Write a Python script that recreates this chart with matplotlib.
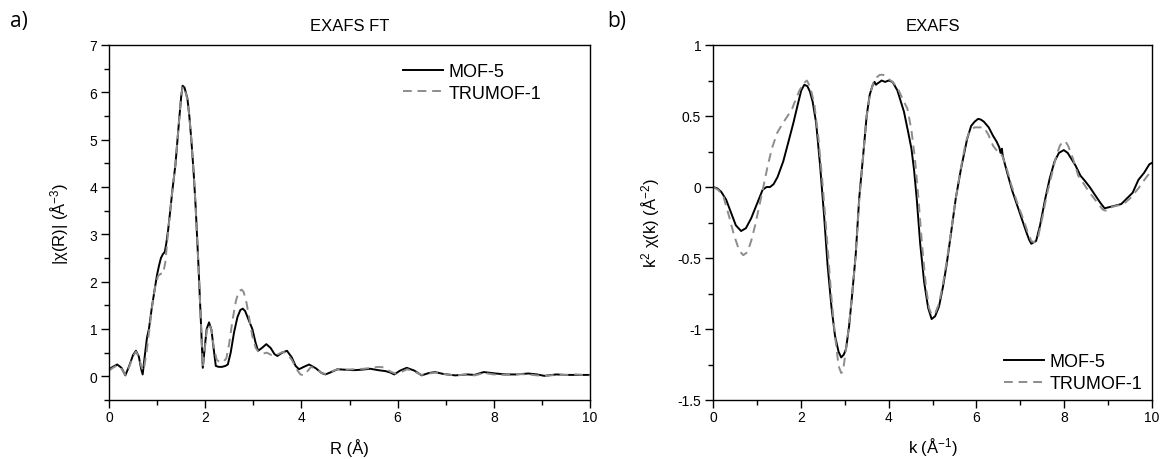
import numpy as np
import matplotlib
matplotlib.use("Agg")
import matplotlib.pyplot as plt
from matplotlib.ticker import MultipleLocator, FuncFormatter

plt.rcParams['font.family'] = ['Liberation Sans', 'DejaVu Sans']
plt.rcParams['mathtext.default'] = 'regular'
plt.rcParams['axes.unicode_minus'] = False

# a) EXAFS FT, |chi(R)| vs R
r_mof5 = [0.0, 0.08, 0.17, 0.26, 0.34, 0.42, 0.5, 0.56, 0.62, 0.67, 0.70, 0.74, 0.79, 0.83,
          0.89, 0.95, 1.0, 1.04, 1.08, 1.12, 1.16, 1.19, 1.23, 1.27, 1.32, 1.38, 1.42, 1.46, 1.50,
          1.53, 1.57, 1.63, 1.67, 1.71, 1.76, 1.80, 1.86, 1.92, 1.95, 1.99, 2.03, 2.08, 2.13,
          2.18, 2.22, 2.28, 2.35, 2.42, 2.47, 2.53, 2.6, 2.67, 2.73, 2.78, 2.83, 2.9, 2.98, 3.05,
          3.1, 3.18, 3.27, 3.36, 3.44, 3.5, 3.6, 3.7, 3.8, 3.88, 3.95, 4.05, 4.16, 4.3, 4.42, 4.5,
          4.62, 4.75, 4.9, 5.09, 5.25, 5.43, 5.6, 5.75, 5.85, 5.93, 6.05, 6.19, 6.35, 6.5, 6.65,
          6.78, 6.95, 7.2, 7.45, 7.6, 7.79, 8.04, 8.25, 8.46, 8.72, 8.9, 9.05, 9.3, 9.5, 9.65, 9.85, 10.0]
chi_mof5 = [0.15, 0.2, 0.25, 0.18, 0.02, 0.22, 0.45, 0.54, 0.42, 0.15, 0.04, 0.4, 0.82, 1.0,
            1.45, 1.84, 2.15, 2.34, 2.5, 2.58, 2.63, 2.8, 3.1, 3.47, 3.95, 4.46, 4.95, 5.44, 5.9,
            6.14, 6.1, 5.87, 5.5, 5.02, 4.3, 3.61, 2.34, 0.93, 0.18, 0.6, 1.0, 1.14, 0.98,
            0.55, 0.22, 0.2, 0.2, 0.22, 0.25, 0.5, 0.93, 1.25, 1.4, 1.43, 1.38, 1.2, 1.0, 0.7,
            0.54, 0.6, 0.68, 0.6, 0.47, 0.43, 0.5, 0.54, 0.4, 0.22, 0.15, 0.2, 0.25, 0.17, 0.07, 0.04,
            0.09, 0.15, 0.14, 0.13, 0.14, 0.16, 0.13, 0.11, 0.08, 0.04, 0.12, 0.18, 0.12, 0.02, 0.07,
            0.09, 0.05, 0.02, 0.04, 0.03, 0.09, 0.06, 0.04, 0.04, 0.06, 0.04, 0.01, 0.04, 0.03, 0.03, 0.03, 0.03]

r_trumof = [0.0, 0.08, 0.17, 0.26, 0.34, 0.42, 0.5, 0.56, 0.62, 0.68, 0.72, 0.78, 0.84, 0.9,
            0.96, 1.02, 1.08, 1.12, 1.17, 1.22, 1.27, 1.32, 1.38, 1.42, 1.46, 1.50, 1.53, 1.57,
            1.63, 1.67, 1.71, 1.76, 1.80, 1.86, 1.92, 1.95, 1.99, 2.03, 2.08, 2.13, 2.18, 2.24,
            2.3, 2.37, 2.44, 2.5, 2.57, 2.64, 2.7, 2.76, 2.8, 2.86, 2.92, 2.98, 3.05, 3.12, 3.2,
            3.28, 3.38, 3.5, 3.62, 3.7, 3.8, 3.9, 3.98, 4.05, 4.12, 4.2, 4.3, 4.42, 4.5, 4.62,
            4.75, 4.9, 5.1, 5.3, 5.45, 5.6, 5.72, 5.85, 5.95, 6.05, 6.2, 6.35, 6.5, 6.65, 6.8,
            6.95, 7.2, 7.45, 7.6, 7.8, 8.0, 8.25, 8.5, 8.72, 8.9, 9.05, 9.3, 9.5, 9.7, 9.85, 10.0]
chi_trumof = [0.12, 0.18, 0.23, 0.16, 0.03, 0.2, 0.42, 0.52, 0.42, 0.18, 0.12, 0.5, 1.0, 1.5,
              1.9, 2.12, 2.17, 2.16, 2.4, 2.95, 3.47, 3.95, 4.46, 4.95, 5.44, 5.9, 6.12, 6.08,
              5.85, 5.5, 5.02, 4.3, 3.61, 2.34, 0.93, 0.2, 0.55, 0.95, 1.1, 0.98, 0.6, 0.35,
              0.3, 0.3, 0.38, 0.7, 1.2, 1.6, 1.8, 1.83, 1.78, 1.55, 1.2, 0.85, 0.6, 0.5, 0.48,
              0.5, 0.45, 0.46, 0.52, 0.48, 0.35, 0.15, 0.04, 0.02, 0.1, 0.2, 0.16, 0.07, 0.05, 0.1,
              0.15, 0.14, 0.15, 0.16, 0.18, 0.2, 0.19, 0.1, 0.06, 0.08, 0.15, 0.1, 0.03, 0.06, 0.08,
              0.05, 0.02, 0.04, 0.02, 0.07, 0.04, 0.03, 0.05, 0.04, 0.02, 0.01, 0.03, 0.03, 0.04, 0.03, 0.02]

# b) EXAFS, k^2 chi(k) vs k
k_mof5 = [0.0, 0.1, 0.19, 0.3, 0.41, 0.52, 0.64, 0.75, 0.87, 1.0, 1.13, 1.22, 1.3, 1.38, 1.47,
          1.6, 1.72, 1.83, 1.93, 2.01, 2.08, 2.15, 2.21, 2.27, 2.35, 2.44, 2.53, 2.61, 2.7, 2.78,
          2.86, 2.92, 2.98, 3.03, 3.1, 3.16, 3.25, 3.33, 3.42, 3.5, 3.57, 3.64, 3.68, 3.71, 3.75,
          3.8, 3.84, 3.92, 4.0, 4.09, 4.2, 4.35, 4.45, 4.52, 4.58, 4.64, 4.72, 4.81, 4.9, 4.98,
          5.06, 5.15, 5.24, 5.32, 5.42, 5.53, 5.65, 5.79, 5.88, 5.96, 6.04, 6.1, 6.17, 6.28, 6.38,
          6.46, 6.52, 6.55, 6.58, 6.6, 6.65, 6.72, 6.82, 6.93, 7.04, 7.14, 7.2, 7.25, 7.3, 7.36,
          7.45, 7.57, 7.67, 7.78, 7.88, 7.99, 8.08, 8.16, 8.26, 8.37, 8.48, 8.58, 8.71, 8.82, 8.92,
          9.05, 9.18, 9.3, 9.43, 9.56, 9.69, 9.82, 9.94, 10.0]
kchi_mof5 = [0.0, -0.01, -0.035, -0.09, -0.18, -0.27, -0.31, -0.29, -0.22, -0.12, -0.02, 0.0,
             0.0, 0.02, 0.07, 0.18, 0.32, 0.45, 0.58, 0.68, 0.72, 0.71, 0.67, 0.6, 0.45, 0.15,
             -0.2, -0.55, -0.85, -1.05, -1.16, -1.2, -1.18, -1.14, -0.98, -0.79, -0.48, -0.08,
             0.22, 0.5, 0.65, 0.72, 0.74, 0.72, 0.73, 0.74, 0.75, 0.74, 0.75, 0.74, 0.68, 0.53,
             0.38, 0.27, 0.12, -0.08, -0.4, -0.67, -0.85, -0.93, -0.91, -0.84, -0.7, -0.55, -0.33,
             -0.08, 0.13, 0.34, 0.43, 0.46, 0.48, 0.475, 0.46, 0.42, 0.36, 0.32, 0.28, 0.24, 0.27,
             0.22, 0.16, 0.08, -0.03, -0.13, -0.23, -0.32, -0.37, -0.40, -0.39, -0.38, -0.27, -0.08,
             0.06, 0.18, 0.24, 0.26, 0.24, 0.2, 0.15, 0.08, 0.04, 0.0, -0.06, -0.11, -0.15, -0.14,
             -0.13, -0.12, -0.08, -0.04, 0.05, 0.1, 0.16, 0.17]

k_trumof = [0.0, 0.12, 0.24, 0.36, 0.48, 0.6, 0.69, 0.78, 0.87, 0.96, 1.05, 1.14, 1.24, 1.34,
            1.46, 1.59, 1.7, 1.8, 1.89, 1.97, 2.06, 2.14, 2.22, 2.31, 2.4, 2.48, 2.58, 2.69, 2.78,
            2.86, 2.92, 2.96, 3.0, 3.08, 3.16, 3.25, 3.33, 3.42, 3.5, 3.58, 3.66, 3.72, 3.8, 3.88,
            3.96, 4.09, 4.2, 4.32, 4.43, 4.52, 4.6, 4.68, 4.76, 4.85, 4.92, 4.98, 5.06, 5.15, 5.24,
            5.32, 5.42, 5.53, 5.65, 5.76, 5.83, 5.9, 5.96, 6.05, 6.17, 6.27, 6.38, 6.48, 6.59, 6.7,
            6.8, 6.93, 7.06, 7.16, 7.25, 7.32, 7.4, 7.5, 7.6, 7.71, 7.82, 7.9, 7.97, 8.03, 8.09,
            8.2, 8.32, 8.45, 8.58, 8.73, 8.88, 8.98, 9.09, 9.22, 9.35, 9.5, 9.69, 9.85, 10.0]
kchi_trumof = [0.0, -0.02, -0.07, -0.2, -0.34, -0.45, -0.48, -0.46, -0.38, -0.27, -0.14, -0.01,
               0.14, 0.27, 0.38, 0.45, 0.5, 0.55, 0.62, 0.68, 0.73, 0.75, 0.7, 0.58, 0.35, 0.08,
               -0.3, -0.75, -1.05, -1.26, -1.31, -1.3, -1.21, -1.02, -0.79, -0.48, -0.1, 0.22,
               0.5, 0.66, 0.74, 0.77, 0.79, 0.79, 0.77, 0.74, 0.7, 0.62, 0.55, 0.4, 0.2, -0.08,
               -0.4, -0.7, -0.85, -0.9, -0.89, -0.82, -0.68, -0.53, -0.32, -0.08, 0.14, 0.32, 0.38,
               0.41, 0.42, 0.42, 0.42, 0.37, 0.29, 0.25, 0.22, 0.12, 0.01, -0.11, -0.22, -0.31,
               -0.38, -0.39, -0.36, -0.22, -0.06, 0.08, 0.22, 0.29, 0.32, 0.32, 0.29, 0.2, 0.08,
               0.02, -0.04, -0.1, -0.16, -0.17, -0.14, -0.13, -0.12, -0.08, -0.01, 0.06, 0.12]

fig = plt.figure(figsize=(11.63, 4.6), dpi=100)
ax1 = fig.add_axes([109 / 1163, 1 - 401 / 460, (590 - 109) / 1163, (401 - 46) / 460])
ax2 = fig.add_axes([713 / 1163, 1 - 401 / 460, (1152 - 713) / 1163, (401 - 46) / 460])

solid = dict(color='black', lw=1.4)
dashed = dict(color='#8c8c8c', lw=1.4, ls=(0, (4.5, 3)))

ax1.plot(r_mof5, chi_mof5, label='MOF-5', **solid)
ax1.plot(r_trumof, chi_trumof, label='TRUMOF-1', **dashed)
ax2.plot(k_mof5, kchi_mof5, label='MOF-5', **solid)
ax2.plot(k_trumof, kchi_trumof, label='TRUMOF-1', **dashed)

fmt = FuncFormatter(lambda v, p: '%g' % v)
for ax in (ax1, ax2):
    ax.set_xlim(0, 10)
    ax.xaxis.set_major_locator(MultipleLocator(2))
    ax.xaxis.set_minor_locator(MultipleLocator(1))
    ax.tick_params(which='both', direction='out', top=False, right=False,
                   labelsize=10, width=1)
    ax.tick_params(which='major', length=6)
    ax.tick_params(which='minor', length=3.5)
    ax.tick_params(axis='x', pad=1.5)
    ax.tick_params(axis='y', pad=2.5)
    ax.xaxis.set_major_formatter(fmt)
    ax.yaxis.set_major_formatter(fmt)
    for s in ax.spines.values():
        s.set_linewidth(1)

ax1.set_ylim(-0.5, 7)
ax1.set_yticks(range(0, 8))
ax1.yaxis.set_minor_locator(MultipleLocator(0.5))
ax2.set_ylim(-1.5, 1)
ax2.yaxis.set_major_locator(MultipleLocator(0.5))
ax2.yaxis.set_minor_locator(MultipleLocator(0.25))

ax1.set_xlabel('R (Å)', fontsize=12, labelpad=10)
ax1.set_ylabel('$|\\chi(R)|$ (Å$^{-3}$)', fontsize=12, labelpad=13)
ax2.set_xlabel('k (Å$^{-1}$)', fontsize=12, labelpad=8)
ax2.set_ylabel('k$^{2}$ $\\chi(k)$ (Å$^{-2}$)', fontsize=12, labelpad=11)

ax1.set_title('EXAFS FT', fontsize=12, pad=11)
ax2.set_title('EXAFS', fontsize=12, pad=11)

fig.text(10 / 1163, 1 - 22 / 460, 'a)', fontsize=15, family='Open Sans', va='center')
fig.text(607 / 1163, 1 - 22 / 460, 'b)', fontsize=15, family='Open Sans', va='center')

leg_kw = dict(frameon=False, fontsize=13, handlelength=2.2, handletextpad=0.3,
              labelspacing=0.25, borderaxespad=0, borderpad=0)
ax1.legend(loc='upper left', bbox_to_anchor=((403 - 109) / 481, (401 - 64) / 355), **leg_kw)
ax2.legend(loc='lower left', bbox_to_anchor=((1004 - 713) / 439, (401 - 393) / 355), **leg_kw)

fig.savefig('out.png', dpi=100)
